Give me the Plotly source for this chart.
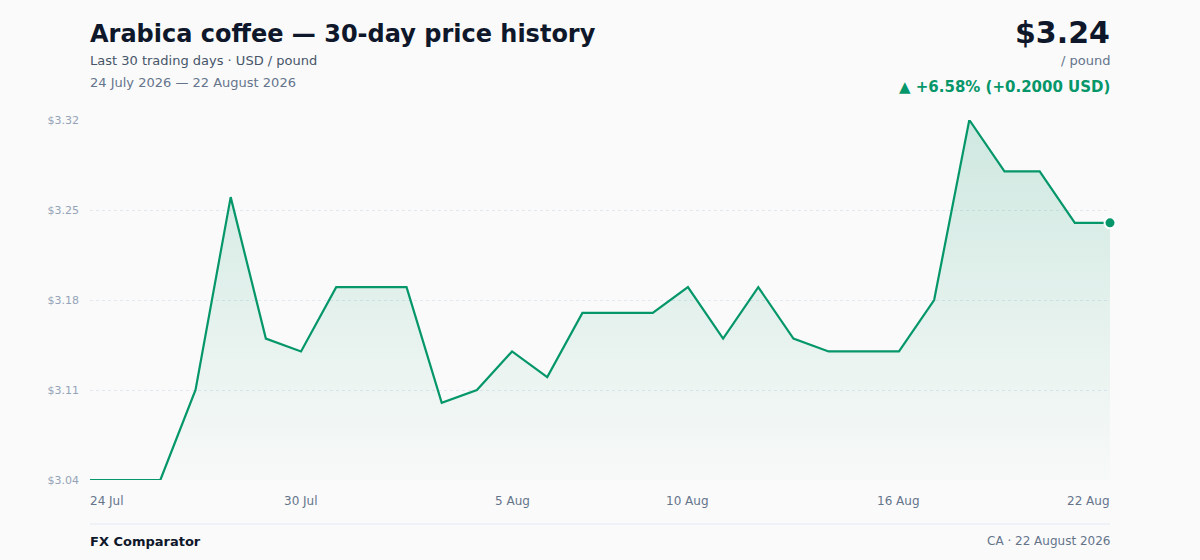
import pandas as pd
import plotly.graph_objects as go

# Daily prices, USD per pound
dates = pd.date_range("2026-07-24", "2026-08-22", freq="D")
prices = [3.04, 3.04, 3.04, 3.11, 3.26, 3.15, 3.14, 3.19, 3.19, 3.19,
          3.10, 3.11, 3.14, 3.12, 3.17, 3.17, 3.17, 3.19, 3.15, 3.19,
          3.15, 3.14, 3.14, 3.14, 3.18, 3.32, 3.28, 3.28, 3.24, 3.24]

y_ticks = [3.04, 3.11, 3.18, 3.25, 3.32]
x_ticks = ["2026-07-24", "2026-07-30", "2026-08-05", "2026-08-10", "2026-08-16", "2026-08-22"]
x_tick_labels = ["24 Jul", "30 Jul", "5 Aug", "10 Aug", "16 Aug", "22 Aug"]

GREEN = "#059669"
FONT = "DejaVu Sans"

first, last = prices[0], prices[-1]
change = last - first
pct = change / first * 100

fig = go.Figure()

fig.add_trace(go.Scatter(
    x=dates, y=prices, mode="lines",
    line=dict(color=GREEN, width=2.2),
    fill="tozeroy",
    fillgradient=dict(type="vertical", start=min(y_ticks), stop=max(y_ticks),
                      colorscale=[[0, "rgba(5,150,105,0.01)"], [1, "rgba(5,150,105,0.18)"]]),
    hoverinfo="skip",
))

# last point marker
fig.add_trace(go.Scatter(
    x=[dates[-1]], y=[last], mode="markers",
    marker=dict(color=GREEN, size=11, line=dict(color="white", width=2)),
    cliponaxis=False, hoverinfo="skip",
))

fig.update_layout(
    width=1200, height=560,
    margin=dict(l=90, r=90, t=120, b=80),
    paper_bgcolor="#fafafa", plot_bgcolor="#fafafa",
    showlegend=False,
    font=dict(family=FONT, color="#64748b"),
    xaxis=dict(range=[dates[0], dates[-1]], showgrid=False, zeroline=False,
               showticklabels=False, showline=False),
    yaxis=dict(range=[3.04, 3.32], tickvals=y_ticks,
               ticktext=[f"${v:.2f}" for v in y_ticks],
               tickfont=dict(size=11, color="#94a3b8"),
               ticklabelstandoff=10,
               showgrid=True, gridcolor="#e2e8f0", griddash="dot", gridwidth=1,
               zeroline=False, showline=False),
)

annotations = [
    dict(text="<b>Arabica coffee — 30-day price history</b>", x=88, y=34,
         font=dict(size=24, color="#0f172a")),
    dict(text="Last 30 trading days · USD / pound", x=88, y=61,
         font=dict(size=13, color="#475569")),
    dict(text="24 July 2026 — 22 August 2026", x=88, y=83,
         font=dict(size=13, color="#64748b")),
    dict(text=f"<b>${last:.2f}</b>", x=1112, y=32, xanchor="right",
         font=dict(size=30, color="#0f172a")),
    dict(text="/ pound", x=1112, y=61, xanchor="right",
         font=dict(size=13, color="#64748b")),
    dict(text=f"<b>▲ +{pct:.2f}% (+{change:.4f} USD)</b>", x=1112, y=87, xanchor="right",
         font=dict(size=15, color=GREEN)),
    dict(text="<b>FX Comparator</b>", x=88, y=541,
         font=dict(size=13, color="#0f172a")),
    dict(text="CA · 22 August 2026", x=1112, y=541, xanchor="right",
         font=dict(size=12, color="#64748b")),
]
for a in annotations:
    fig.add_annotation(xref="paper", yref="paper", showarrow=False,
                       xanchor=a.get("xanchor", "left"), yanchor="middle",
                       x=(a["x"] - 90) / 1020, y=(480 - a["y"]) / 360,
                       text=a["text"], font=dict(family=FONT, **a["font"]))

# x tick labels, first and last aligned to the plot edges
for i, (tv, tl) in enumerate(zip(x_ticks, x_tick_labels)):
    anchor = "left" if i == 0 else "right" if i == len(x_ticks) - 1 else "center"
    shift = -2 if i == 0 else 2 if i == len(x_ticks) - 1 else 0
    fig.add_annotation(x=tv, y=(480 - 501) / 360, xref="x", yref="paper",
                       text=tl, showarrow=False, xanchor=anchor, yanchor="middle",
                       xshift=shift,
                       font=dict(family=FONT, size=12, color="#64748b"))

# footer rule
fig.add_shape(type="line", xref="paper", yref="paper",
              x0=0, x1=1, y0=(480 - 524) / 360, y1=(480 - 524) / 360,
              line=dict(color="#e2e8f0", width=1))

fig.write_html("out.html", config={"displayModeBar": False},
               post_script="document.body.style.margin='0';")
